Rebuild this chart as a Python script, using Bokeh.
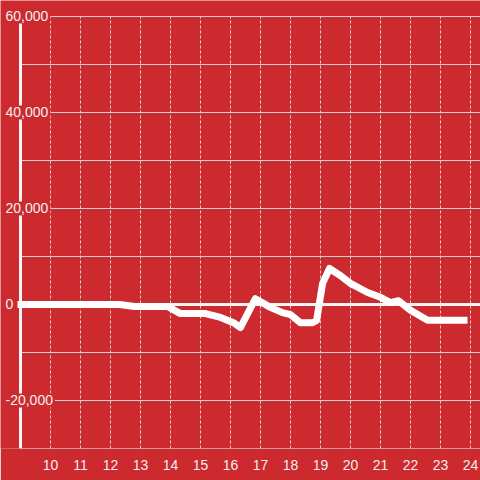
from bokeh.plotting import figure
from bokeh.models import Range1d, FixedTicker, LabelSet, ColumnDataSource
from bokeh.core.properties import value
from bokeh.embed import file_html
from bokeh.resources import INLINE

# ---- data ----
hours = [8.9, 12.3, 12.8, 13.9, 14.33, 15.17, 15.67, 16.1, 16.33, 16.83, 17.33, 17.73,
         18.0, 18.33, 18.73, 18.87, 19.07, 19.3, 19.67, 20.0, 20.57, 21.0, 21.33, 21.6,
         22.0, 22.57, 23.9]
values = [0, 0, -400, -400, -1900, -1900, -2700, -3800, -4800, 1200, -600, -1700,
          -2100, -3800, -3800, -3300, 4400, 7500, 6000, 4400, 2500, 1500, 400, 800,
          -1200, -3300, -3300]

x_ticks = list(range(10, 25))
y_grid = list(range(-30000, 60001, 10000))
y_label_vals = [60000, 40000, 20000, 0, -20000]
y_label_text = ["60,000", "40,000", "20,000", "0", "-20,000"]

RED = "#cc2a2f"
GRID = "#d2d2d2"
TXT = "#f2eeee"
FONT = "Liberation Sans"

XS, X0, X1 = 8.3333, 9, 24.3333
Y0, Y1 = -30000, 60000

p = figure(width=480, height=480, output_backend="svg", toolbar_location=None,
           x_range=Range1d(XS, X1), y_range=Range1d(Y0, 63333),
           y_axis_location=None,
           min_border_left=0, min_border_right=0, min_border_top=0, min_border_bottom=32,
           background_fill_color=RED, border_fill_color=RED, outline_line_color=None)
p.xgrid.visible = False
p.ygrid.visible = False

ax = p.xaxis[0]
ax.ticker = FixedTicker(ticks=x_ticks)
ax.axis_line_color = None
ax.major_tick_line_color = None
ax.minor_tick_line_color = None
ax.major_label_text_color = TXT
ax.major_label_text_font = FONT
ax.major_label_text_font_size = "14px"
ax.major_label_standoff = 5

# horizontal grid lines
p.segment(x0=[X0] * len(y_grid), y0=y_grid, x1=[X1] * len(y_grid), y1=y_grid,
          line_color=GRID, line_width=1)
# vertical dotted grid lines
p.segment(x0=x_ticks, y0=[Y0] * len(x_ticks), x1=x_ticks, y1=[Y1] * len(x_ticks),
          line_color=GRID, line_width=1, line_dash="3 2")
# y axis line
p.segment(x0=[X0], y0=[Y0], x1=[X0], y1=[Y1], line_color="#f4f4f4", line_width=3)

# zero line
p.segment(x0=[X0], y0=[0], x1=[X1], y1=[0], line_color="#f4f4f4", line_width=3)

# data line
p.line(hours, values, line_color="white", line_width=7, line_join="round")

# y labels with background boxes
src = ColumnDataSource(dict(x=[XS] * len(y_label_vals), y=y_label_vals, t=y_label_text))
labels = LabelSet(x="x", y="y", text="t", source=src, x_offset=5,
                  text_align="left", text_baseline="middle",
                  text_color=TXT, text_font=value(FONT), text_font_size=value("14px"),
                  background_fill_color=RED, background_fill_alpha=1.0,
                  border_line_color=RED, border_line_width=4)
p.add_layout(labels)

open("out.html", "w").write(file_html(p, INLINE))
